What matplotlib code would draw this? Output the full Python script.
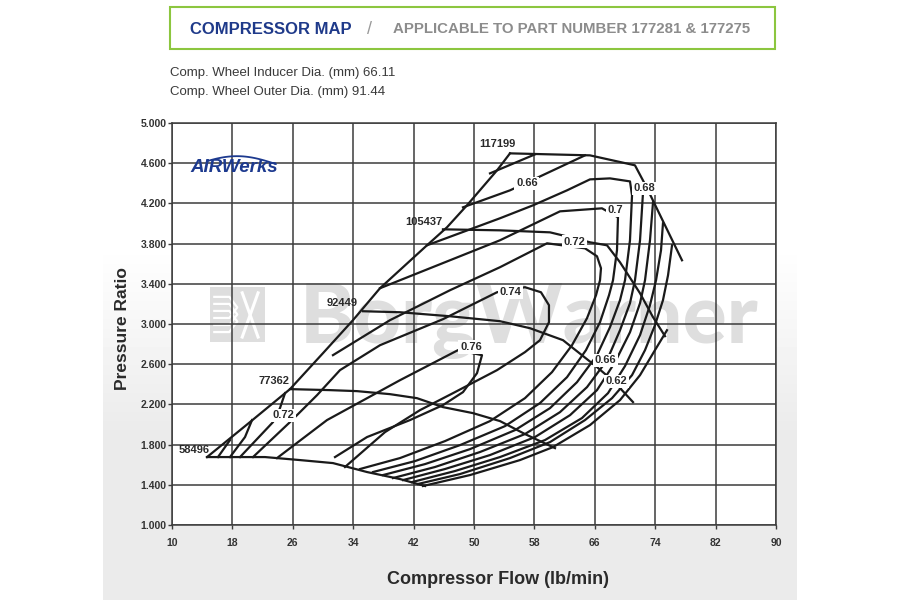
import numpy as np
import matplotlib
matplotlib.use("Agg")
import matplotlib.pyplot as plt
from matplotlib.patches import Rectangle

plt.rcParams['font.family'] = ['Liberation Sans', 'DejaVu Sans']

# ---- data (flow lb/min, pressure ratio) ----
x_ticks = [10, 18, 26, 34, 42, 50, 58, 66, 74, 82, 90]
y_ticks = [1.0, 1.4, 1.8, 2.2, 2.6, 3.0, 3.4, 3.8, 4.2, 4.6, 5.0]

surge_x = [14.64, 20.33, 25.63, 30.0, 33.97, 37.55, 43.77, 46.42, 49.07, 53.05, 54.77]
surge_y = [1.676, 2.024, 2.352, 2.710, 3.038, 3.356, 3.783, 3.962, 4.181, 4.529, 4.698]

speed_names = ['58496', '77362', '92449', '105437', '117199']
speed_x = [
    [14.64, 19.01, 22.32, 26.95, 31.32, 35.83, 40.20, 43.51],
    [25.63, 30.93, 34.50, 38.87, 42.45, 45.89, 49.87, 53.44, 56.75, 60.73],
    [35.30, 40.20, 46.82, 53.44, 57.42, 61.79, 66.29, 68.01, 69.34, 71.06],
    [45.89, 53.44, 60.07, 61.66, 65.36, 67.62, 69.34, 71.99, 73.71, 75.30],
    [54.77, 60.07, 65.36, 71.32, 72.38, 73.05, 75.30, 77.55],
]
speed_y = [
    [1.676, 1.676, 1.676, 1.646, 1.616, 1.527, 1.457, 1.388],
    [2.352, 2.342, 2.332, 2.302, 2.262, 2.173, 2.113, 2.034, 1.905, 1.765],
    [3.127, 3.117, 3.077, 3.028, 2.958, 2.839, 2.571, 2.461, 2.362, 2.223],
    [3.942, 3.932, 3.912, 3.883, 3.813, 3.783, 3.614, 3.306, 3.068, 2.879],
    [4.698, 4.688, 4.678, 4.579, 4.429, 4.330, 3.982, 3.634],
]
speed_label_xy = [(12.9, 1.75), (23.5, 2.43), (32.5, 3.21), (43.3, 4.01), (53.1, 4.79)]

# efficiency islands, cut by the surge line
eff064_up_x = [52.12, 58.08]
eff064_up_y = [4.499, 4.688]
eff066_up_x = [48.54, 54.77, 58.48, 64.70]
eff066_up_y = [4.161, 4.330, 4.459, 4.678]
eff068_x = [43.77, 53.44, 57.82, 62.32, 65.36, 68.01, 70.66, 70.93, 70.66, 70.0, 69.34, 68.01,
            66.29, 63.64, 60.07, 55.43, 49.47, 43.51, 37.95]
eff068_y = [3.783, 4.052, 4.181, 4.330, 4.439, 4.449, 4.419, 4.280, 3.833, 3.435, 3.237, 2.968,
            2.690, 2.421, 2.163, 1.944, 1.755, 1.606, 1.497]
eff070_x = [37.55, 53.44, 61.39, 66.95, 69.07, 68.94, 68.41, 67.88, 66.69, 64.83, 62.32, 58.74,
            54.11, 48.15, 42.19, 36.62]
eff070_y = [3.356, 3.833, 4.121, 4.151, 4.062, 3.734, 3.435, 3.286, 3.018, 2.740, 2.471, 2.213,
            1.984, 1.795, 1.636, 1.527]
eff072_x = [31.32, 38.87, 46.82, 53.44, 59.67, 64.70, 66.29, 66.82, 66.69, 66.16, 64.97, 62.98,
            60.33, 56.75, 52.12, 46.16, 40.20, 34.90]
eff072_y = [2.690, 3.038, 3.336, 3.565, 3.803, 3.753, 3.674, 3.555, 3.435, 3.286, 3.058, 2.789,
            2.521, 2.262, 2.034, 1.835, 1.666, 1.557]
eff074_x = [20.73, 25.63, 29.21, 32.25, 37.55, 45.89, 53.05, 56.75, 58.87, 59.93, 59.93, 58.74,
            56.75, 53.05, 47.22, 42.85, 38.21, 32.91]
eff074_y = [1.676, 2.024, 2.292, 2.541, 2.789, 3.048, 3.316, 3.366, 3.316, 3.187, 3.018, 2.839,
            2.720, 2.541, 2.312, 2.143, 1.924, 1.577]
eff076_x = [23.91, 30.53, 40.20, 47.88, 51.06, 50.40, 48.54, 45.89, 41.52, 35.83, 31.59]
eff076_y = [1.666, 2.044, 2.441, 2.740, 2.690, 2.511, 2.322, 2.193, 2.044, 1.875, 1.676]
# short pieces between the low speed line and surge
eff068_lo_x = [16.09, 17.68]
eff068_lo_y = [1.676, 1.845]
eff070_lo_x = [17.68, 19.67, 20.60]
eff070_lo_y = [1.676, 1.875, 2.044]
eff072_lo_x = [19.01, 23.38, 24.30, 24.97]
eff072_lo_y = [1.676, 2.024, 2.163, 2.312]
# choke side legs of the outer islands
eff066_x = [72.38, 71.99, 71.32, 70.66, 69.34, 67.62, 64.97, 61.39, 56.75, 50.79, 44.83, 39.27]
eff066_y = [4.300, 3.833, 3.435, 3.207, 2.938, 2.640, 2.372, 2.123, 1.905, 1.726, 1.577, 1.467]
eff064_x = [73.71, 73.31, 72.65, 71.99, 70.66, 68.68, 66.29, 62.72, 58.08, 52.12, 46.16, 40.60]
eff064_y = [4.211, 3.833, 3.435, 3.207, 2.918, 2.620, 2.342, 2.093, 1.875, 1.696, 1.557, 1.447]
eff062_x = [75.03, 74.77, 74.11, 73.31, 71.99, 70.0, 67.75, 64.30, 59.40, 53.44, 47.48, 41.79]
eff062_y = [4.002, 3.734, 3.435, 3.187, 2.889, 2.581, 2.312, 2.064, 1.845, 1.676, 1.537, 1.427]
eff060_x = [76.23, 75.70, 75.03, 73.97, 72.65, 70.93, 68.28, 64.70, 60.07, 54.77, 48.15, 42.58]
eff060_y = [3.783, 3.485, 3.237, 2.988, 2.740, 2.491, 2.262, 2.044, 1.825, 1.666, 1.507, 1.408]
eff058_x = [75.56, 73.97, 71.99, 69.34, 65.36, 60.46, 56.09, 49.47, 43.25]
eff058_y = [2.938, 2.740, 2.491, 2.243, 1.994, 1.775, 1.646, 1.497, 1.388]

eff_lines = [
    (eff064_up_x, eff064_up_y), (eff066_up_x, eff066_up_y), (eff068_x, eff068_y),
    (eff070_x, eff070_y), (eff072_x, eff072_y), (eff074_x, eff074_y), (eff076_x, eff076_y),
    (eff068_lo_x, eff068_lo_y), (eff070_lo_x, eff070_lo_y), (eff072_lo_x, eff072_lo_y),
    (eff066_x, eff066_y), (eff064_x, eff064_y), (eff062_x, eff062_y), (eff060_x, eff060_y),
    (eff058_x, eff058_y),
]

eff_labels = ['0.66', '0.68', '0.7', '0.72', '0.74', '0.76', '0.72', '0.66', '0.62']
eff_label_xy = [(57.0, 4.40), (72.6, 4.35), (68.7, 4.13), (63.3, 3.82), (54.8, 3.32),
                (49.6, 2.77), (24.8, 2.09), (67.4, 2.64), (68.9, 2.43)]

ink = '#1a1a1a'

fig = plt.figure(figsize=(9, 6), dpi=100)

# soft gray panel behind the chart
bg = fig.add_axes([103 / 900, 0, 694 / 900, 355 / 600])
shade = np.concatenate([np.linspace(1.0, 0.92, 190), np.full(165, 0.92)])[:, None]
bg.imshow(shade, cmap='gray', vmin=0, vmax=1, aspect='auto', extent=[0, 1, 0, 1])
bg.axis('off')

ax = fig.add_axes([172 / 900, 75 / 600, 604 / 900, 402 / 600])
ax.set_facecolor('white')
ax.set_xlim(10, 90)
ax.set_ylim(1.0, 5.0)
ax.set_xticks(x_ticks)
ax.set_yticks(y_ticks)
ax.set_yticklabels(['%.3f' % v for v in y_ticks])
ax.set_axisbelow(True)
ax.grid(True, color='#3c3c3c', lw=1.1)
for s in ax.spines.values():
    s.set_color('#3c3c3c')
    s.set_linewidth(1.1)
ax.tick_params(axis='both', colors='#3c3c3c', length=3, width=1, labelsize=7.5,
               labelcolor='#333333')
for lab in ax.get_xticklabels() + ax.get_yticklabels():
    lab.set_fontweight('bold')
ax.tick_params(axis='x', pad=6)
ax.tick_params(axis='y', pad=1)

# watermark, sized to span the same width as in the source
wm = ax.text(300 / 900, 1 - 343 / 600, 'BorgWarner', transform=fig.transFigure, fontsize=57,
             fontweight='black', family=['Lato', 'Liberation Sans'], color='#dedede',
             zorder=0.2, va='baseline')
fig.canvas.draw()
wm.set_fontsize(57 * 458 / wm.get_window_extent().width)
ax.add_patch(Rectangle((15.03, 2.82), 7.3, 0.55, color='#dedede', zorder=0.2, lw=0))
for k in range(3):
    ax.plot([15.6, 17.6, 18.6], [3.27 - k * 0.07, 3.27 - k * 0.07, 3.17 - k * 0.07],
            color='white', lw=1.6, zorder=0.3)
    ax.plot([15.6, 17.6, 18.6], [2.92 + k * 0.07, 2.92 + k * 0.07, 3.02 + k * 0.07],
            color='white', lw=1.6, zorder=0.3)
ax.plot([19.3, 21.4], [3.31, 2.87], color='white', lw=2.2, zorder=0.3)
ax.plot([19.3, 21.4], [2.87, 3.31], color='white', lw=2.2, zorder=0.3)

# AirWerks badge
ax.text(12.4, 4.51, 'AIRWerks', fontsize=13.5, fontweight='heavy', fontstyle='italic',
        color='#1d3a8f', va='baseline', zorder=3)
t = np.linspace(0.15, 0.95, 40)
ax.plot(13.0 + 11.2 * t, 4.58 + 0.09 * np.sin(np.pi * t), color='#1d3a8f', lw=1.3)

# map lines
ax.plot(surge_x, surge_y, color=ink, lw=1.6, zorder=4)
for xs, ys in zip(speed_x, speed_y):
    ax.plot(xs, ys, color=ink, lw=1.6, zorder=4)
for xs, ys in eff_lines:
    ax.plot(xs, ys, color=ink, lw=1.6, zorder=4)

for name, (lx, ly) in zip(speed_names, speed_label_xy):
    ax.text(lx, ly, name, fontsize=8, fontweight='bold', color='#2a2a2a',
            ha='center', va='center', zorder=6)
for name, (lx, ly) in zip(eff_labels, eff_label_xy):
    ax.text(lx, ly, name, fontsize=8, fontweight='bold', color='#2a2a2a', ha='center',
            va='center', zorder=6,
            bbox=dict(boxstyle='square,pad=0.15', fc='white', ec='none'))

# header and notes
fig.patches.append(Rectangle((170 / 900, 1 - 49 / 600), 605 / 900, 42 / 600,
                             transform=fig.transFigure, fc='white', ec='#8cc63f', lw=1.5))
fig.text(190 / 900, 1 - 29 / 600, 'COMPRESSOR MAP', fontsize=12, fontweight='bold',
         color='#1f3a8a', va='center')
fig.text(367 / 900, 1 - 29 / 600, '/', fontsize=13, color='#9a9a9a', va='center')
fig.text(393 / 900, 1 - 29 / 600, 'APPLICABLE TO PART NUMBER 177281 & 177275', fontsize=10.8,
         fontweight='bold', color='#8c8c8c', va='center')
fig.text(170 / 900, 1 - 73 / 600, 'Comp. Wheel Inducer Dia. (mm) 66.11', fontsize=9.5,
         color='#3a3a3a', va='center')
fig.text(170 / 900, 1 - 92 / 600, 'Comp. Wheel Outer Dia. (mm) 91.44', fontsize=9.5,
         color='#3a3a3a', va='center')

fig.text(123 / 900, 1 - 329 / 600, 'Pressure Ratio', rotation=90, fontsize=12.5,
         fontweight='bold', color='#2a2a2a', ha='center', va='center')
fig.text(498 / 900, 1 - 579 / 600, 'Compressor Flow (lb/min)', fontsize=13,
         fontweight='bold', color='#2a2a2a', ha='center', va='center')

fig.savefig('out.png', dpi=100)
